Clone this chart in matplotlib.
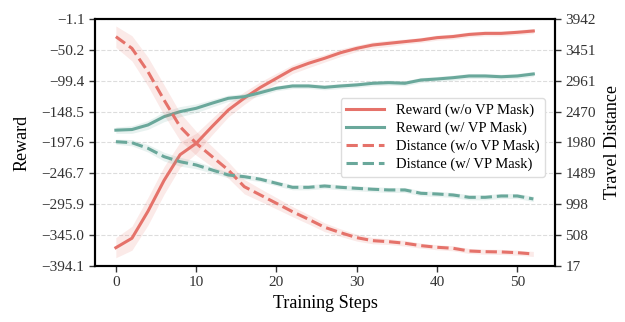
import numpy as np
import matplotlib
matplotlib.use("Agg")
import matplotlib.pyplot as plt

plt.rcParams['font.family'] = ['Liberation Serif', 'DejaVu Serif']

steps = list(range(0, 53, 2))

reward_no_mask = [-365, -350, -307, -258, -217, -199, -172, -146, -127, -110, -95.5, -81,
                  -71.6, -63.6, -54.7, -47.8, -42.5, -39.8, -37.1, -34.5, -30.8, -29,
                  -25.7, -24, -24, -22.3, -20.2]
reward_mask = [-178, -177, -169.7, -156.5, -148.5, -143.2, -135, -127.3, -124.7, -118.3,
               -111.4, -107.7, -107.7, -109.8, -107.7, -106, -103.4, -102.4, -103.4,
               -98.2, -96.6, -94.5, -91.8, -91.8, -93, -91.8, -88.6]
dist_no_mask = [3661, 3476, 3104, 2655, 2230, 1967, 1754, 1542, 1277, 1145, 1013, 880, 759,
                632, 546, 467, 419, 403, 378, 340, 314, 298, 255, 244, 240, 228, 208]
dist_mask = [1992, 1976, 1887, 1754, 1674, 1622, 1542, 1463, 1436, 1395, 1331, 1267, 1267,
             1288, 1267, 1251, 1236, 1225, 1225, 1172, 1161, 1145, 1108, 1108, 1129, 1129, 1082]

# half widths of the shaded bands
reward_no_mask_sd = [16, 19, 22, 22, 20, 16, 13, 11, 10, 9, 8, 7, 7, 6, 6, 5, 5, 5, 4, 4, 4,
                     4, 4, 4, 4, 4, 4]
reward_mask_sd = [5, 6, 7, 8, 8, 7, 6, 5, 5, 5, 4, 4, 4, 4, 4, 4, 4, 4, 4, 4, 4, 4, 4, 4, 4, 4, 4]
dist_no_mask_sd = [170, 200, 230, 240, 220, 190, 160, 130, 115, 100, 90, 80, 75, 70, 60, 55,
                   50, 45, 45, 40, 40, 40, 40, 40, 40, 40, 40]
dist_mask_sd = [40, 50, 60, 70, 70, 60, 50, 45, 40, 40, 40, 40, 40, 40, 40, 40, 40, 40, 40,
                40, 40, 40, 40, 40, 40, 40, 40]

left_ticks = [-394.1, -345.0, -295.9, -246.7, -197.6, -148.5, -99.4, -50.2, -1.1]
right_ticks = [17, 508, 998, 1489, 1980, 2470, 2961, 3451, 3942]

red = '#E5726A'
teal = '#6AA89B'

fig = plt.figure(figsize=(6.25, 3.22), dpi=100)
ax = fig.add_axes([0.152, 0.174, 0.736, 0.767])
ax2 = ax.twinx()

x = np.array(steps)

def band(a, y, sd, c):
    y = np.array(y)
    sd = np.array(sd)
    a.fill_between(x, y - sd, y + sd, color=c, alpha=0.15, lw=0)

band(ax, reward_no_mask, reward_no_mask_sd, red)
band(ax, reward_mask, reward_mask_sd, teal)
l1, = ax.plot(x, reward_no_mask, color=red, lw=2.2, label='Reward (w/o VP Mask)')
l2, = ax.plot(x, reward_mask, color=teal, lw=2.2, label='Reward (w/ VP Mask)')

band(ax2, dist_no_mask, dist_no_mask_sd, red)
band(ax2, dist_mask, dist_mask_sd, teal)
l3, = ax2.plot(x, dist_no_mask, color=red, lw=2.2, ls='--', label='Distance (w/o VP Mask)')
l4, = ax2.plot(x, dist_mask, color=teal, lw=2.2, ls='--', label='Distance (w/ VP Mask)')

ax.set_xlim(-2.6, 54.7)
ax.set_ylim(left_ticks[0], left_ticks[-1])
ax2.set_ylim(right_ticks[0], right_ticks[-1])
ax.set_yticks(left_ticks)
ax.set_yticklabels(['\u2212%.1f' % abs(v) for v in left_ticks])
ax2.set_yticks(right_ticks)
ax.set_xticks([0, 10, 20, 30, 40, 50])

ax.grid(axis='y', ls='--', color='#dddddd', lw=0.8)
ax.set_axisbelow(True)

for a in (ax, ax2):
    for s in a.spines.values():
        s.set_linewidth(1.5)
        s.set_color('black')
    a.tick_params(labelsize=11, length=4, width=1, colors='#333333')

ax.set_xlabel('Training Steps', fontsize=13)
ax.set_ylabel('Reward', fontsize=13, labelpad=8)
ax2.set_ylabel('Travel Distance', fontsize=13, labelpad=6)

ax2.legend(handles=[l1, l2, l3, l4], loc='upper right', bbox_to_anchor=(0.995, 0.71),
           fontsize=10.5, frameon=True, edgecolor='#dddddd', framealpha=1,
           handlelength=2.6, borderpad=0.4, labelspacing=0.3)

fig.savefig('out.png', dpi=100)
